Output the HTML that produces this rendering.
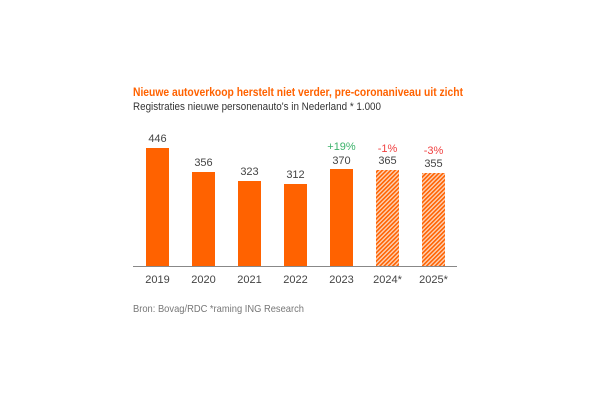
<!DOCTYPE html>
<html><head><style>
body{margin:0;width:600px;height:400px;background:#fff;overflow:hidden}
</style></head><body>
<svg width="600" height="400" xmlns="http://www.w3.org/2000/svg" font-family="Liberation Sans, sans-serif">
<defs>
<pattern id="h" width="3" height="3" patternUnits="userSpaceOnUse" patternTransform="rotate(45)">
<rect width="3" height="3" fill="#fdd3b8"/><rect width="1.6" height="3" fill="#ff6200"/>
</pattern>
</defs>
<text x="133" y="96" font-size="12" font-weight="bold" fill="#ff6200" textLength="330" lengthAdjust="spacingAndGlyphs">Nieuwe autoverkoop herstelt niet verder, pre-coronaniveau uit zicht</text>
<text x="133" y="110" font-size="11" fill="#333" textLength="248" lengthAdjust="spacingAndGlyphs">Registraties nieuwe personenauto's in Nederland * 1.000</text>
<g fill="#ff6200">
<rect x="146" y="148" width="23" height="118"/>
<rect x="192" y="172" width="23" height="94"/>
<rect x="238" y="181" width="23" height="85"/>
<rect x="284" y="184" width="23" height="82"/>
<rect x="330" y="169" width="23" height="97"/>
</g>
<rect x="376" y="170" width="23" height="96" fill="url(#h)"/>
<rect x="422" y="173" width="23" height="93" fill="url(#h)"/>
<line x1="133" y1="266.5" x2="457" y2="266.5" stroke="#888" stroke-width="1"/>
<g font-size="11" fill="#444" text-anchor="middle">
<text x="157.5" y="142">446</text>
<text x="203.5" y="166">356</text>
<text x="249.5" y="175">323</text>
<text x="295.5" y="178">312</text>
<text x="341.5" y="164">370</text>
<text x="387.5" y="164">365</text>
<text x="433.5" y="167">355</text>
<text x="157.5" y="283">2019</text>
<text x="203.5" y="283">2020</text>
<text x="249.5" y="283">2021</text>
<text x="295.5" y="283">2022</text>
<text x="341.5" y="283">2023</text>
<text x="387.5" y="283">2024*</text>
<text x="433.5" y="283">2025*</text>
</g>
<text x="341.5" y="150" font-size="11" fill="#3bb26a" text-anchor="middle">+19%</text>
<text x="387.5" y="152" font-size="11" fill="#f04040" text-anchor="middle">-1%</text>
<text x="433.5" y="154" font-size="11" fill="#f04040" text-anchor="middle">-3%</text>
<text x="133" y="312" font-size="10.5" fill="#777" textLength="171" lengthAdjust="spacingAndGlyphs">Bron: Bovag/RDC *raming ING Research</text>
</svg>
</body></html>
